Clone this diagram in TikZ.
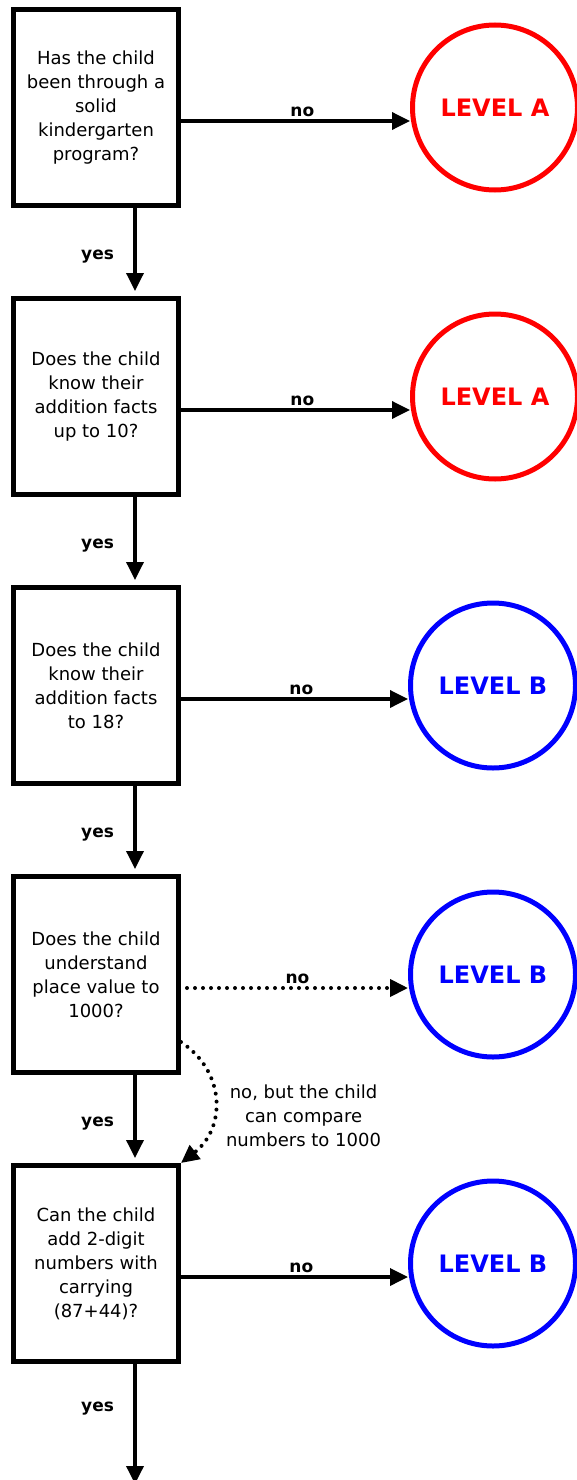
\documentclass[tikz,border=0pt]{standalone}
\usepackage{fontspec}
\setmainfont{DejaVu Sans}
\usetikzlibrary{positioning, arrows.meta}
\definecolor{LevelRed}{HTML}{FF0000}
\definecolor{LevelBlue}{HTML}{0000FF}

\tikzset{
  question/.style={draw, line width=5pt, minimum width=165pt, minimum height=196pt,
    align=center, inner sep=0pt, font=\fontsize{18}{24}\selectfont},
  level/.style={circle, draw=#1, text=#1, line width=5pt, minimum size=165pt, inner sep=0pt,
    font=\fontsize{24}{26}\selectfont\bfseries},
  flow/.style={line width=3.5pt, -{Triangle[length=18pt,width=17pt]}},
  dots/.style={line width=4pt, dash pattern=on 0pt off 8pt, line cap=round},
  answer/.style={font=\fontsize{17}{20}\selectfont\bfseries},
  remark/.style={align=center, font=\fontsize{18}{24}\selectfont},
}

\begin{document}
\begin{tikzpicture}[x=1pt, y=1pt, node distance=88pt]
  \useasboundingbox (0,0) rectangle (576,-1480);

  % Questions
  \node[question] (q1) at (96,-107.5) {Has the child\\been through a\\solid\\kindergarten\\program?};
  \node[question, below=of q1] (q2) {Does the child\\know their\\addition facts\\up to 10?};
  \node[question, below=of q2] (q3) {Does the child\\know their\\addition facts\\to 18?};
  \node[question, below=of q3] (q4) {Does the child\\understand\\place value to\\1000?};
  \node[question, below=of q4] (q5) {Can the child\\add 2-digit\\numbers with\\carrying\\(87+44)?};

  % Levels
  \node[level=LevelRed, right=229pt of q1] (a1) {LEVEL A};
  \node[level=LevelRed, right=229pt of q2] (a2) {LEVEL A};
  \node[level=LevelBlue, right=227pt of q3] (b1) {LEVEL B};
  \node[level=LevelBlue, right=227pt of q4] (b2) {LEVEL B};
  \node[level=LevelBlue, right=227pt of q5] (b3) {LEVEL B};

  % No arrows
  \draw[flow] ([yshift=-13.5pt]q1.east) -- ([yshift=-13.5pt]q1.east -| a1.west)
    node[answer, pos=0.53, above=-1pt] {no};
  \draw[flow] ([yshift=-13.5pt]q2.east) -- ([yshift=-13.5pt]q2.east -| a2.west)
    node[answer, pos=0.53, above=-1pt] {no};
  \draw[flow] ([yshift=-13.5pt]q3.east) -- ([yshift=-13.5pt]q3.east -| b1.west)
    node[answer, pos=0.53, above=-1pt] {no};
  \draw[flow, dots]
    ([xshift=6pt, yshift=-13.5pt]q4.east) -- ([yshift=-13.5pt]q4.east -| b2.west)
    node[answer, pos=0.5, above=-1pt] {no};
  \draw[flow] ([yshift=-13.5pt]q5.east) -- ([yshift=-13.5pt]q5.east -| b3.west)
    node[answer, pos=0.53, above=-1pt] {no};

  % Yes arrows
  \draw[flow, shorten >=5pt] ([xshift=39pt]q1.south) -- ([xshift=39pt]q2.north)
    node[answer, midway, left=16pt, yshift=-5pt] {yes};
  \draw[flow, shorten >=5pt] ([xshift=39pt]q2.south) -- ([xshift=39pt]q3.north)
    node[answer, midway, left=16pt, yshift=-5pt] {yes};
  \draw[flow, shorten >=5pt] ([xshift=39pt]q3.south) -- ([xshift=39pt]q4.north)
    node[answer, midway, left=16pt, yshift=-5pt] {yes};
  \draw[flow, shorten >=5pt] ([xshift=39pt]q4.south) -- ([xshift=39pt]q5.north)
    node[answer, midway, left=16pt, yshift=-5pt] {yes};
  \coordinate (exit) at ([xshift=39pt, yshift=-120pt]q5.south);
  \draw[flow] ([xshift=39pt]q5.south) -- (exit)
    node[answer, pos=0.37, left=16pt] {yes};

  % Partial answer
  \draw[flow, dots]
    ([yshift=33pt]q4.south east) .. controls +(45pt,-30pt) and +(45pt,35pt) .. (q5.north east)
    node[remark, midway, right=6pt, yshift=-15pt] {no, but the child\\can compare\\numbers to 1000};
\end{tikzpicture}
\end{document}
